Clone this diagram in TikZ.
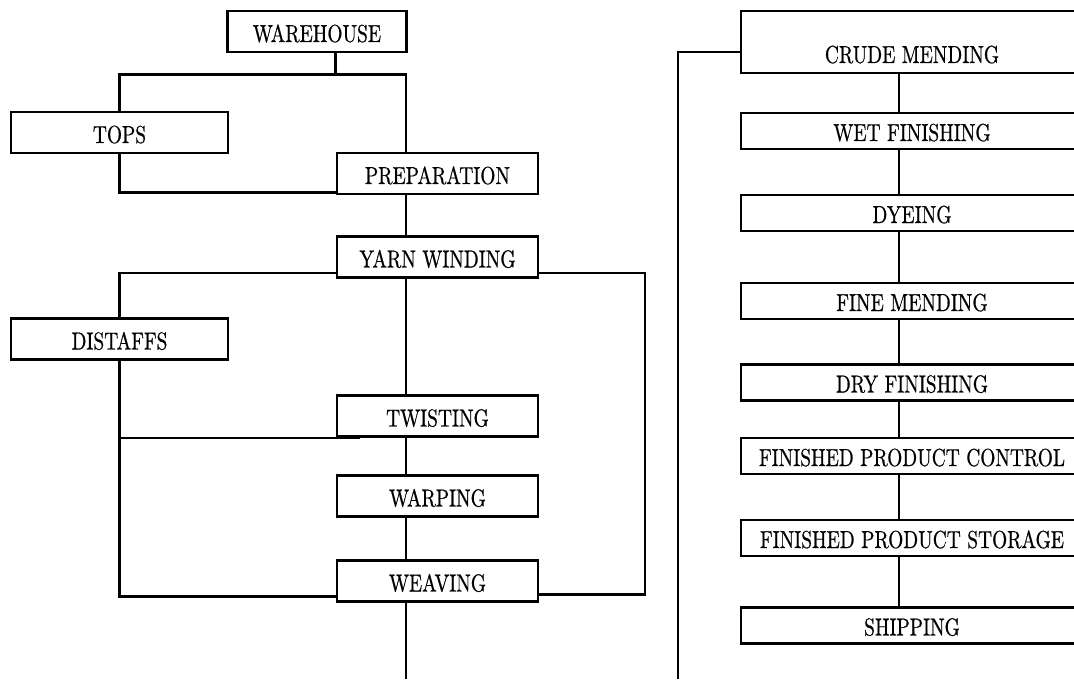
\documentclass[tikz,border=0pt]{standalone}
\usepackage{fontspec}
\usepackage{tikz}
\newfontfamily\boxfont{lmroman10-regular.otf}[FakeStretch=0.79, FakeBold=0.6]

\begin{document}
\begin{tikzpicture}[x=0.02cm, y=-0.02cm, line width=1.6pt,
		stage/.style={draw, inner xsep=0pt, inner ysep=0pt,
			font=\boxfont\fontsize{14pt}{16pt}\selectfont,
			text height=0.62cm, text depth=0.2cm},
		mainstage/.style={stage, minimum width=4.02cm},
		sidestage/.style={stage, minimum width=4.34cm},
		finstage/.style={stage, minimum width=6.84cm, text height=0.56cm, text depth=0.16cm}]
		%%%%% START %%%%%
		\useasboundingbox (0,0) rectangle (1074,679);
		\clip (0,0) rectangle (1074,679);
		
		\coordinate (spine) at (406,0);
		\coordinate (rloop) at (645,0);
		\coordinate (rspine) at (899,0);
		\coordinate (out-l) at (406,679);
		\coordinate (out-r) at (678,679);
		
		% spinning side
		\node[stage, minimum width=3.57cm] (warehouse) at (317,31.5) {WAREHOUSE};
		\node[sidestage] (tops) at (119.5,132.5) {TOPS};
		\node[mainstage] (prep) at (437.5,173.5) {PREPARATION};
		\node[mainstage] (yarn) at (437.5,257) {YARN WINDING};
		\node[sidestage] (distaffs) at (119.5,339) {DISTAFFS};
		\node[mainstage] (twisting) at (437.5,416) {TWISTING};
		\node[mainstage] (warping) at (437.5,496) {WARPING};
		\node[mainstage] (weaving) at (437.5,581) {WEAVING};
		
		\draw (warehouse.south -| prep.west) -- ++(0,21) coordinate (bus);
		\draw (tops.north) |- (bus -| spine) -- (prep.north -| spine);
		\draw (tops.south) |- ([yshift=1.7pt]prep.south west);
		\draw (prep.south -| spine) -- (yarn.north -| spine);
		
		\coordinate (yarn-r) at ([yshift=3.4pt]yarn.south east);
		\coordinate (weave-r) at ([yshift=4.9pt]weaving.south east);
		\draw ([yshift=3.4pt]yarn.south west) -| (distaffs.north);
		\draw (yarn-r) -| (rloop |- weave-r) -- (weave-r);
		\draw (distaffs.south) |- ([yshift=3.8pt]weaving.south west);
		\draw (distaffs.south |- twisting.south) -- ([xshift=14pt]twisting.south west);
		
		\draw (yarn.south -| spine) -- (twisting.north -| spine);
		\draw (twisting.south -| spine) -- (warping.north -| spine);
		\draw (warping.south -| spine) -- (weaving.north -| spine);
		\draw (weaving.south -| spine) -- (out-l);
		
		% finishing side
		\node[finstage, text height=1.04cm, text depth=0.2cm] (crude) at (912,42) {CRUDE MENDING};
		\node[finstage] (wet) at (912,131) {WET FINISHING};
		\node[finstage] (dyeing) at (912,213) {DYEING};
		\node[finstage] (fine) at (912,301) {FINE MENDING};
		\node[finstage] (dry) at (912,382.5) {DRY FINISHING};
		\node[finstage] (control) at (912,456) {FINISHED PRODUCT CONTROL};
		\node[finstage] (storage) at (912,538) {FINISHED PRODUCT STORAGE};
		\node[finstage] (shipping) at (912,625.5) {SHIPPING};
		
		\draw ([yshift=-5.7pt]crude.west) -| (out-r);
		\draw (crude.south -| rspine) -- (wet.north -| rspine);
		\draw (wet.south -| rspine) -- (dyeing.north -| rspine);
		\draw (dyeing.south -| rspine) -- (fine.north -| rspine);
		\draw (fine.south -| rspine) -- (dry.north -| rspine);
		\draw (dry.south -| rspine) -- (control.north -| rspine);
		\draw (control.south -| rspine) -- (storage.north -| rspine);
		\draw (storage.south -| rspine) -- (shipping.north -| rspine);
		%%%%% END %%%%%
\end{tikzpicture}
\end{document}
